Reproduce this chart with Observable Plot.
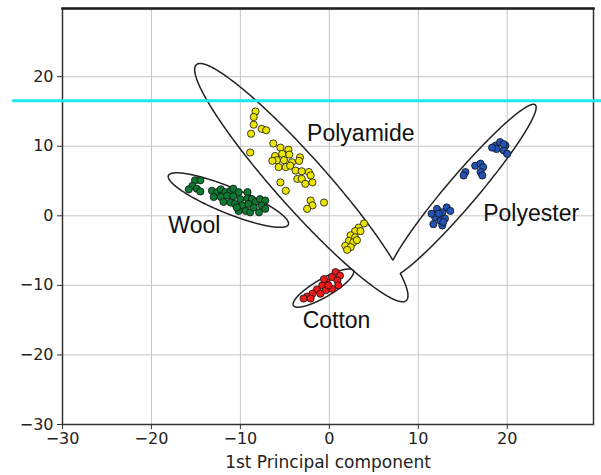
<!DOCTYPE html>
<html><head><meta charset="utf-8">
<script src="https://cdn.jsdelivr.net/npm/d3@7"></script>
<script src="https://cdn.jsdelivr.net/npm/@observablehq/plot@0.6"></script>
<style>body{margin:0;background:#fff}</style>
</head><body><div id="chart"></div>
<script>
// Tick values
const xTicks = [-30, -20, -10, 0, 10, 20];
const yTicks = [-30, -20, -10, 0, 10, 20];

// Series
const woolX = [-15.1,-14.5,-15.4,-14.9,-15.8,-14.5,-13.2,-12.6,-12.2,-11.7,-11.1,-10.8,-10.2,-9.2,-13.0,-12.2,-11.5,-10.8,-10.0,-9.2,-8.7,-11.9,-11.1,-10.6,-9.8,-9.1,-8.3,-7.8,-7.2,-7.6,-7.2,-10.2,-9.4,-8.9,-8.5,-7.9,-10.4];
const woolY = [5.1,5.1,4.3,3.9,3.8,3.5,3.6,3.4,3.8,3.4,3.6,3.9,3.4,3.4,2.7,2.7,2.9,2.8,2.4,2.5,2.4,2.0,1.9,1.7,1.5,1.7,2.0,2.4,2.2,1.5,1.0,0.7,0.7,0.5,1.2,0.5,1.2];

const polyamideX = [-8.3,-8.5,-8.5,-8.8,-7.6,-7.1,-8.9,-6.3,-5.5,-6.1,-5.3,-4.6,-4.5,-5.9,-5.1,-4.2,-3.3,-3.4,-6.4,-5.7,-4.9,-4.4,-3.8,-3.1,-2.3,-3.6,-3.1,-2.1,-2.7,-1.9,-5.5,-4.9,-2.1,-1.9,-0.6,-2.5,
  3.9,3.3,2.9,3.5,2.4,2.9,2.2,2.7,1.8,2.4,2.0,3.1];
const polyamideY = [15.0,14.2,13.1,11.8,12.5,12.3,9.1,10.4,9.8,8.6,8.9,9.5,8.8,8.0,8.0,7.7,8.4,7.9,7.9,7.0,7.0,7.2,6.5,6.4,6.3,5.3,5.3,5.8,4.6,4.8,4.8,3.6,2.2,1.5,1.9,1.0,
  -1.1,-1.7,-2.2,-2.2,-2.8,-3.1,-3.6,-3.8,-4.3,-4.5,-4.9,-3.5];

const cottonX = [0.7,1.2,0.3,0.9,-0.3,1.0,-0.8,0.3,-0.4,-1.4,-1.9,-1.0,-2.5,-2.9,-2.1,-0.1,-0.6];
const cottonY = [-8.1,-8.6,-8.8,-9.3,-9.6,-10.0,-10.0,-10.5,-10.7,-10.6,-11.2,-11.2,-11.6,-11.9,-11.9,-10.0,-9.1];

const polyesterX = [18.7,19.2,19.8,18.8,19.6,20.0,18.3,19.6,16.4,17.0,17.3,17.0,17.2,15.3,15.1,12.1,12.7,13.2,13.6,11.9,12.5,13.0,11.7,12.7,11.5,12.3,12.8];
const polyesterY = [10.1,10.6,10.1,9.6,9.4,8.9,9.8,10.3,7.2,7.5,7.0,6.3,5.8,6.3,5.8,1.0,0.5,1.2,0.7,-0.2,-0.7,-0.4,-1.2,-1.4,0.3,0.3,-0.9];

// Class names, colours, label anchors
const classNames = ["Wool", "Polyamide", "Cotton", "Polyester"];
const classColors = ["#0d7a32", "#ede500", "#ee1a1a", "#2352b6"];
const labelX = [-18.1, -2.5, -3.0, 17.3];
const labelY = [-1.4, 11.8, -15.1, 0.3];

// Enclosing ellipses: centre, half major-axis vector, half minor-axis vector (data units)
const ellNames = ["Polyamide", "Polyester", "Wool", "Cotton"];
const ellCX = [-3.15, 14.9, -11.35, -0.67];
const ellCY = [4.77, 3.55, 2.26, -10.39];
const ellUX = [11.8, 8.25, 6.74, 3.37];
const ellUY = [-16.95, 12.4, -3.52, 2.51];
const ellVX = [2.14, 1.3, 0.55, 0.51];
const ellVY = [2.44, -1.42, 1.73, -1.12];
const mergedPairs = [[0, 1], [1, 0]]; // outlines drawn as a union

// Highlight line
const cyanY = [16.55];

// ---- build tables ----
const seriesX = [woolX, polyamideX, cottonX, polyesterX];
const seriesY = [woolY, polyamideY, cottonY, polyesterY];
const points = [];
seriesX.forEach((xs, k) => xs.forEach((x, i) => points.push({x, y: seriesY[k][i], c: classNames[k]})));

function inside(k, px, py) {
  const dx = px - ellCX[k], dy = py - ellCY[k];
  const det = ellUX[k] * ellVY[k] - ellVX[k] * ellUY[k];
  const s = (dx * ellVY[k] - ellVX[k] * dy) / det;
  const t = (ellUX[k] * dy - ellUY[k] * dx) / det;
  return s * s + t * t < 1;
}
const outline = [];
ellNames.forEach((name, k) => {
  const other = mergedPairs.find(p => p[0] === k);
  for (let a = 0; a <= 720; a++) {
    const th = a / 720 * 2 * Math.PI;
    const x = ellCX[k] + ellUX[k] * Math.cos(th) + ellVX[k] * Math.sin(th);
    const y = ellCY[k] + ellUY[k] * Math.cos(th) + ellVY[k] * Math.sin(th);
    const hidden = other ? inside(other[1], x, y) : false;
    outline.push({x, y: hidden ? NaN : y, z: name});
  }
});
const labels = classNames.map((n, i) => ({n, x: labelX[i], y: labelY[i]}));

const chart = Plot.plot({
  width: 601, height: 475,
  marginLeft: 62, marginRight: 8, marginTop: 8, marginBottom: 51,
  x: {domain: [-30, 29.7]},
  y: {domain: [-30, 29.8]},
  color: {domain: classNames, range: classColors},
  style: {fontFamily: "DejaVu Sans", fontSize: "16px", color: "#222", background: "#fff"},
  marks: [
    Plot.gridX(xTicks.slice(1), {stroke: "#c6c6c6", strokeOpacity: 1}),
    Plot.gridY(yTicks.slice(1), {stroke: "#c6c6c6", strokeOpacity: 1}),
    Plot.frame({stroke: "#333", strokeWidth: 1.5}),
    Plot.frame({anchor: "top", stroke: "#222", strokeWidth: 2.5}),
    Plot.line(outline, {x: "x", y: "y", z: "z", stroke: "#222", strokeWidth: 1.5}),
    Plot.dot(points, {x: "x", y: "y", fill: "c", r: 3.6, stroke: "#111", strokeWidth: 0.8}),
    Plot.text(labels, {x: "x", y: "y", text: "n", textAnchor: "start", lineAnchor: "middle",
      fontFamily: "Liberation Sans, Arial, sans-serif", fontSize: 23, fill: "#111"}),
    Plot.ruleY(cyanY, {x1: -35.6, x2: 30.6, stroke: "#22e6ee", strokeWidth: 3}),
    Plot.axisX(xTicks, {tickSize: 5, tickPadding: 3, fontSize: 16, label: null, stroke: "#333"}),
    Plot.axisY(yTicks, {tickSize: 5, tickPadding: 4, fontSize: 16, label: null, stroke: "#333"}),
    Plot.text(["1st Principal component"], {frameAnchor: "bottom", dy: 38, lineAnchor: "middle", fontSize: 17, fill: "#222"})
  ]
});
document.getElementById("chart").appendChild(chart);
</script>
</body></html>
